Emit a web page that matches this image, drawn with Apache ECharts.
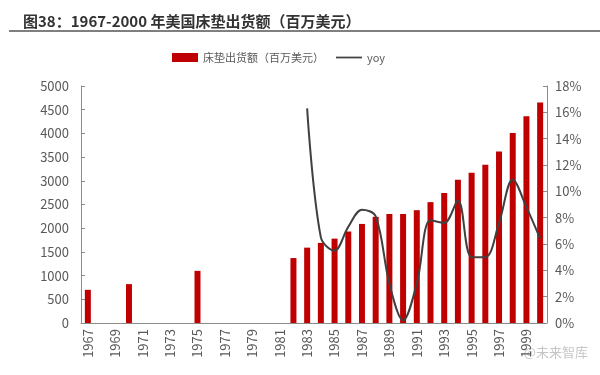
<!DOCTYPE html>
<html>
<head>
<meta charset="utf-8">
<script src="https://cdn.jsdelivr.net/npm/echarts@6/dist/echarts.min.js"></script>
<style>
  html,body{margin:0;padding:0;background:#fff;}
  #main{width:600px;height:375px;}
</style>
</head>
<body>
<div id="main"></div>
<script>
// 年份 1967-2000
let years = []
for (let y = 1967; y <= 2000; y++) years.push(String(y))

// 床垫出货额（百万美元），缺失年份为 null
let shipments = [
  700, null, null, 820, null, null, null, null, 1100, null,
  null, null, null, null, null, 1370, 1590, 1690, 1780, 1930,
  2090, 2240, 2300, 2300, 2380, 2550, 2740, 3020, 3170, 3340,
  3620, 4010, 4360, 4650
]

// yoy
let yoy = [
  null, null, null, null, null, null, null, null, null, null,
  null, null, null, null, null, null, 0.163, 0.065, 0.055, 0.073,
  0.086, 0.081, 0.030, 0.002, 0.030, 0.078, 0.076, 0.093, 0.050, 0.050,
  0.076, 0.109, 0.088, 0.064
]

let titleText = '图38：1967-2000 年美国床垫出货额（百万美元）'
let font = '"Noto Sans CJK SC", "Noto Sans", sans-serif'

var myChart = echarts.init(document.getElementById('main'))
var option = {
  animation: false,
  textStyle: { fontFamily: font },
  title: {
    text: titleText,
    left: 18,
    top: 9,
    textStyle: { fontSize: 15, fontWeight: 'bold', color: '#333', fontFamily: font }
  },
  graphic: [
    {
      type: 'line',
      shape: { x1: 9, y1: 31, x2: 600, y2: 31 },
      style: { stroke: '#555', lineWidth: 1.5 }
    },
    {
      type: 'text',
      right: 12,
      top: 346,
      style: { text: '@未来智库', fill: 'rgba(150,150,150,0.55)', font: '13px ' + font }
    }
  ],
  legend: {
    top: 47,
    left: 167,
    itemGap: 12,
    itemWidth: 26,
    itemHeight: 9,
    textStyle: { fontSize: 11, color: '#595959', fontFamily: font },
    data: [
      { name: '床垫出货额（百万美元）', icon: 'rect' },
      { name: 'yoy', icon: 'path://M0,0 L30,0 L30,2 L0,2 Z', itemStyle: { color: '#404040' } }
    ]
  },
  grid: { left: 81, right: 53, top: 86, bottom: 52 },
  xAxis: {
    type: 'category',
    data: years,
    axisLine: { lineStyle: { color: '#8c8c8c' } },
    axisTick: { inside: true, length: 4, lineStyle: { color: '#8c8c8c' } },
    axisLabel: {
      interval: 1,
      rotate: 90,
      color: '#595959',
      fontSize: 13,
      margin: 6
    }
  },
  yAxis: [
    {
      type: 'value',
      min: 0,
      max: 5000,
      interval: 500,
      splitLine: { show: false },
      axisLine: { show: true, lineStyle: { color: '#8c8c8c' } },
      axisTick: { show: true, inside: true, length: 4, lineStyle: { color: '#8c8c8c' } },
      axisLabel: { color: '#595959', fontSize: 13, margin: 12, formatter: function (v) { return String(v) } }
    },
    {
      type: 'value',
      min: 0,
      max: 0.18,
      interval: 0.02,
      splitLine: { show: false },
      axisLine: { show: true, lineStyle: { color: '#8c8c8c' } },
      axisTick: { show: true, inside: true, length: 4, lineStyle: { color: '#8c8c8c' } },
      axisLabel: {
        color: '#595959',
        fontSize: 13,
        margin: 8,
        formatter: function (v) { return Math.round(v * 100) + '%' }
      }
    }
  ],
  series: [
    {
      name: '床垫出货额（百万美元）',
      type: 'bar',
      data: shipments,
      barWidth: 6,
      itemStyle: { color: '#C00000' }
    },
    {
      name: 'yoy',
      type: 'line',
      yAxisIndex: 1,
      data: yoy,
      smooth: 0.35,
      showSymbol: false,
      symbol: 'none',
      lineStyle: { color: '#404040', width: 2 },
      itemStyle: { color: '#404040' }
    }
  ]
}
myChart.setOption(option)
</script>
</body>
</html>
